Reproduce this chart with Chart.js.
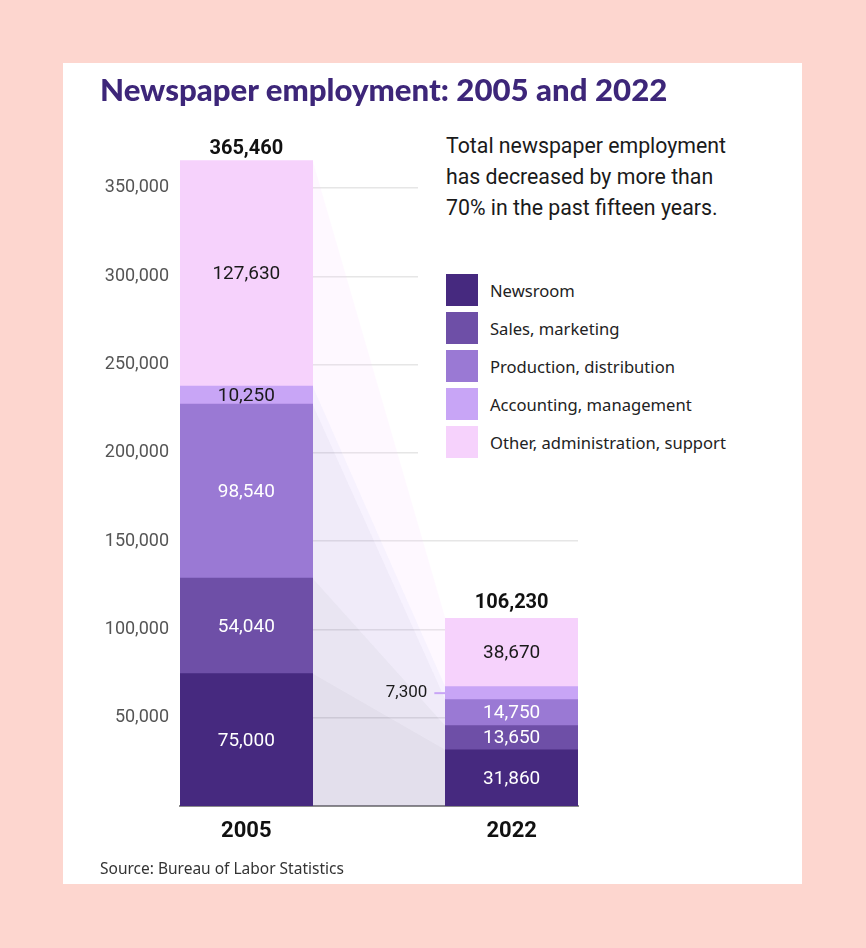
<!DOCTYPE html>
<html>
    <head>
        <meta charset="utf-8">
        <title>Newspaper employment: 2005 and 2022</title>
        <script src="https://cdn.jsdelivr.net/npm/chart.js@4.4.1/dist/chart.umd.min.js"></script>
        <style>
            body { margin: 0; background: #fdd6cf; width: 866px; height: 948px; position: relative; overflow: hidden; }
            #card { position: absolute; left: 63px; top: 63px; width: 739px; height: 821px; background: #fff; }
            #chart { position: absolute; left: 0; top: 0; }
            #title { position: absolute; left: 100px; top: 70px; font-family: Lato, sans-serif; font-weight: 900; font-size: 31.2px; color: #3d2679; white-space: nowrap; }
            #side { position: absolute; left: 418px; top: 125px; width: 335px; height: 345px; background: #fff; }
            #note { position: absolute; left: 28px; top: 5px; font-family: Roboto, sans-serif; font-size: 21.3px; line-height: 31px; color: #1a1a1a; white-space: nowrap; }
            #legend { position: absolute; left: 28px; top: 149px; }
            .item { height: 32px; margin-bottom: 6px; display: flex; align-items: center; }
            .swatch { width: 32px; height: 32px; margin-right: 12px; }
            .item span { font-family: "Noto Sans", sans-serif; font-size: 16.6px; color: #222; }
            #source { position: absolute; left: 100px; top: 857px; font-family: "Noto Sans", sans-serif; font-size: 15.5px; color: #333; }
        </style>
    </head>
    <body>
        <div id="card"></div>
        <canvas id="chart" width="866" height="948"></canvas>
        <div id="title">Newspaper employment: 2005 and 2022</div>
        <div id="side">
            <div id="note">Total newspaper employment<br>has decreased by more than<br>70% in the past fifteen years.</div>
            <div id="legend"></div>
        </div>
        <div id="source">Source: Bureau of Labor Statistics</div>
        <script>
            // values
            var years = ['2005', '', '2022'];
            var categories = ['Newsroom', 'Sales, marketing', 'Production, distribution', 'Accounting, management', 'Other, administration, support'];
            var values2005 = [75000, 54040, 98540, 10250, 127630];
            var values2022 = [31860, 13650, 14750, 7300, 38670];
            var colors = ['#46297f', '#6e4fa7', '#9a79d4', '#c8a5f6', '#f6d2fc'];
            var labelColors = ['#fff', '#fff', '#fff', '#1a1a1a', '#1a1a1a'];
            var yTicks = [50000, 100000, 150000, 200000, 250000, 300000, 350000];

            function fmt(v) { return v.toLocaleString('en-US'); }
            function rgba(hex, a) {
                var n = parseInt(hex.slice(1), 16);
                return 'rgba(' + (n >> 16) + ',' + ((n >> 8) & 255) + ',' + (n & 255) + ',' + a + ')';
            }

            const legend = document.getElementById('legend');
            for (i = 0; i < categories.length; i++) {
                var item = document.createElement('div');
                item.className = 'item';
                var sw = document.createElement('div');
                sw.className = 'swatch';
                sw.style.background = colors[i];
                var txt = document.createElement('span');
                txt.appendChild(document.createTextNode(categories[i]));
                item.appendChild(sw);
                item.appendChild(txt);
                legend.appendChild(item);
            }

            var array_datasets = [];
            for (i = 0; i < categories.length; i++) {
                array_datasets.push({
                    'label': categories[i],
                    'data': [values2005[i], null, values2022[i]],
                    'backgroundColor': colors[i],
                    'borderWidth': 0,
                    'barPercentage': 1.0,
                    'categoryPercentage': 1.0,
                    'stack': 'all'
                });
            }

            // light bands joining each segment of the two bars
            const flows = {
                id: 'flows',
                beforeDatasetsDraw(chart) {
                    const ctx = chart.ctx;
                    ctx.save();
                    for (var d = 0; d < chart.data.datasets.length; d++) {
                        var meta = chart.getDatasetMeta(d);
                        var a = meta.data[0], b = meta.data[2];
                        var ax = a.x + a.width / 2, bx = b.x - b.width / 2;
                        ctx.beginPath();
                        ctx.moveTo(ax, a.y);
                        ctx.lineTo(bx, b.y);
                        ctx.lineTo(bx, b.base);
                        ctx.lineTo(ax, a.base);
                        ctx.closePath();
                        ctx.fillStyle = rgba(colors[d], 0.15);
                        ctx.fill();
                    }
                    ctx.restore();
                }
            };

            const valueLabels = {
                id: 'valueLabels',
                afterDatasetsDraw(chart) {
                    const ctx = chart.ctx;
                    ctx.save();
                    ctx.textBaseline = 'middle';
                    var tops = {};
                    for (var d = 0; d < chart.data.datasets.length; d++) {
                        var meta = chart.getDatasetMeta(d);
                        [0, 2].forEach(function(k) {
                            var el = meta.data[k];
                            var v = chart.data.datasets[d].data[k];
                            var mid = (el.y + el.base) / 2;
                            tops[k] = el.y;
                            ctx.font = '19px Roboto';
                            if (el.base - el.y < 15) {
                                // thin segment: label outside with a tick
                                var left = el.x - el.width / 2;
                                ctx.strokeStyle = colors[d];
                                ctx.lineWidth = 2;
                                ctx.beginPath();
                                ctx.moveTo(left - 11, mid);
                                ctx.lineTo(left, mid);
                                ctx.stroke();
                                ctx.fillStyle = '#1a1a1a';
                                ctx.textAlign = 'right';
                                ctx.font = '17px Roboto';
                                ctx.fillText(fmt(v), left - 18, mid);
                            } else {
                                ctx.fillStyle = labelColors[d];
                                ctx.textAlign = 'center';
                                ctx.fillText(fmt(v), el.x, mid + 1);
                            }
                        });
                    }
                    var totals = [values2005.reduce((s, v) => s + v, 0), values2022.reduce((s, v) => s + v, 0)];
                    ctx.font = 'bold 20px Roboto';
                    ctx.fillStyle = '#111';
                    ctx.textAlign = 'center';
                    ctx.fillText(fmt(totals[0]), chart.getDatasetMeta(0).data[0].x, tops[0] - 12);
                    ctx.fillText(fmt(totals[1]), chart.getDatasetMeta(0).data[2].x, tops[2] - 15);
                    ctx.restore();
                }
            };

            new Chart(document.getElementById('chart'), {
                'type': 'bar',
                'data': {
                    'labels': years,
                    'datasets': array_datasets
                },
                'options': {
                    responsive: false,
                    animation: false,
                    layout: { padding: { top: 135, right: 288, bottom: 102, left: 0 } },
                    plugins: {
                        legend: { display: false },
                        tooltip: { enabled: false }
                    },
                    scales: {
                        x: {
                            stacked: true,
                            offset: true,
                            grid: { display: false },
                            border: { display: true, color: '#8c8c8c', width: 2 },
                            ticks: { color: '#111', padding: 4, font: { family: 'Roboto', size: 22, weight: 'bold' } },
                            afterFit: function(s) { s.height = 40; }
                        },
                        y: {
                            stacked: true,
                            min: 0,
                            max: 380000,
                            afterBuildTicks: function(s) { s.ticks = yTicks.map(v => ({ value: v })); },
                            grid: { color: '#e6e6e6', lineWidth: 1.5, drawTicks: false },
                            border: { display: false },
                            ticks: { color: '#555', padding: 11, font: { family: 'Roboto', size: 18 }, callback: v => fmt(v) },
                            afterFit: function(s) { s.width = 180; }
                        }
                    }
                },
                plugins: [flows, valueLabels]
            });
        </script>
    </body>
</html>
